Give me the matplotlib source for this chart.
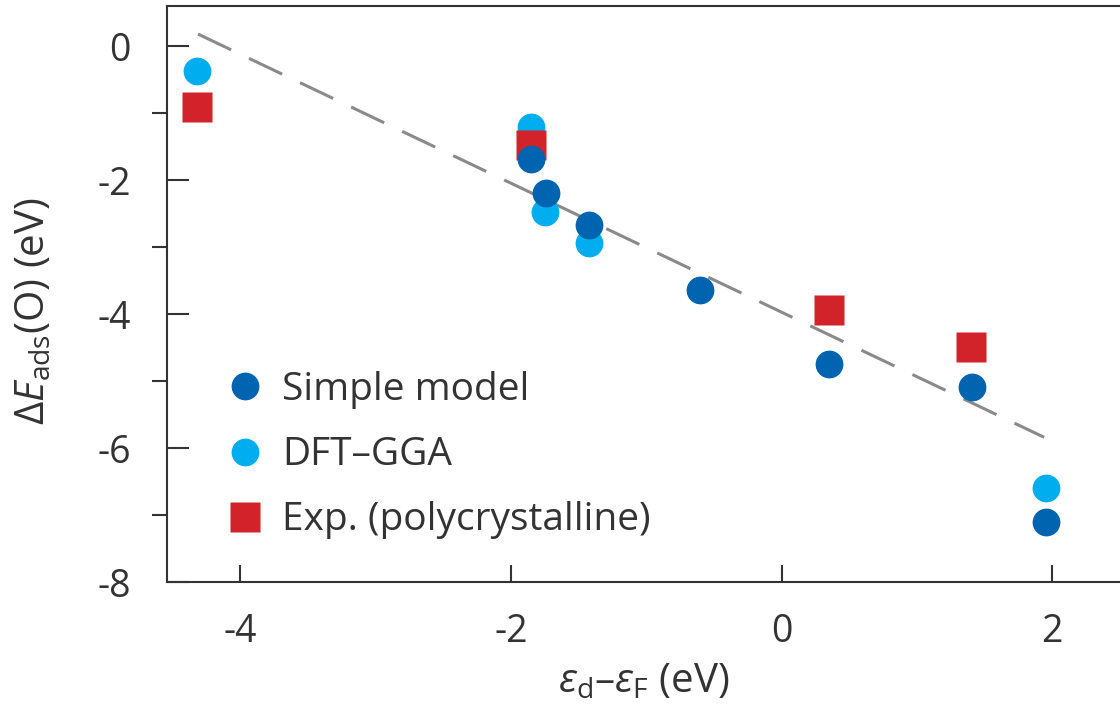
import matplotlib.pyplot as plt
from matplotlib.ticker import MultipleLocator

plt.rcParams['font.family'] = ['Open Sans', 'DejaVu Sans']
plt.rcParams['mathtext.fontset'] = 'custom'
plt.rcParams['mathtext.rm'] = 'Open Sans'
plt.rcParams['mathtext.it'] = 'Open Sans:italic'
plt.rcParams['axes.unicode_minus'] = False

# d-band centre (eV) and O adsorption energy (eV)
dft_x = [-4.32, -1.85, -1.75, -1.42, 1.95]
dft_y = [-0.37, -1.21, -2.48, -2.94, -6.60]

model_x = [-1.85, -1.74, -1.42, -0.60, 0.35, 1.41, 1.95]
model_y = [-1.69, -2.19, -2.67, -3.64, -4.75, -5.09, -7.10]

exp_x = [-4.32, -1.85, 0.35, 1.40]
exp_y = [-0.91, -1.48, -3.94, -4.49]

fit_x = [-4.31, 1.94]
fit_y = [0.18, -5.84]

dark_blue = '#0064b0'
light_blue = '#00aeef'
red = '#d2232a'
text_col = '#333333'

fig = plt.figure(figsize=(11.2, 7.13), dpi=100)
ax = fig.add_axes([0.149, 0.1837, 0.851, 0.808])

ax.plot(fit_x, fit_y, color='#8a8a8a', lw=2.2, dashes=(12, 6.5), zorder=1)
ax.plot(dft_x, dft_y, 'o', ms=20, color=light_blue, mec='none', zorder=2, label='DFT–GGA')
ax.plot(exp_x, exp_y, 's', ms=21, color=red, mec='none', zorder=3, label='Exp. (polycrystalline)')
ax.plot(model_x, model_y, 'o', ms=20, color=dark_blue, mec='none', zorder=4, label='Simple model')

ax.set_xlim(-4.54, 2.5)
ax.set_ylim(-8, 0.6)
ax.set_xticks([-4, -2, 0, 2])
ax.set_yticks([0, -2, -4, -6, -8])
ax.yaxis.set_minor_locator(MultipleLocator(1))

ax.tick_params(axis='both', direction='in', colors=text_col, labelsize=27, width=1.5)
ax.tick_params(axis='x', length=12, pad=22)
ax.tick_params(axis='y', which='major', length=16, pad=26)
ax.tick_params(axis='y', which='minor', length=11, width=1.5, colors=text_col)

for side in ['left', 'bottom', 'top']:
    ax.spines[side].set_color(text_col)
    ax.spines[side].set_linewidth(1.5)
ax.spines['right'].set_visible(False)

ax.set_xlabel(r'$\varepsilon_{\mathrm{d}}$–$\varepsilon_{\mathrm{F}}$ (eV)', fontsize=29, color=text_col, labelpad=8)
ax.set_ylabel(r'Δ$E_{\mathrm{ads}}$(O) (eV)', fontsize=29, color=text_col)
ax.yaxis.set_label_coords(-0.118, 0.47)

handles, labels = ax.get_legend_handles_labels()
order = [2, 0, 1]
ax.legend([handles[i] for i in order], [labels[i] for i in order],
          loc='upper left', bbox_to_anchor=(0.037, 0.40), frameon=False,
          fontsize=28, labelcolor=text_col, handletextpad=0.36,
          labelspacing=0.7, handlelength=1.2, borderpad=0)

fig.savefig('out.png', dpi=100)
